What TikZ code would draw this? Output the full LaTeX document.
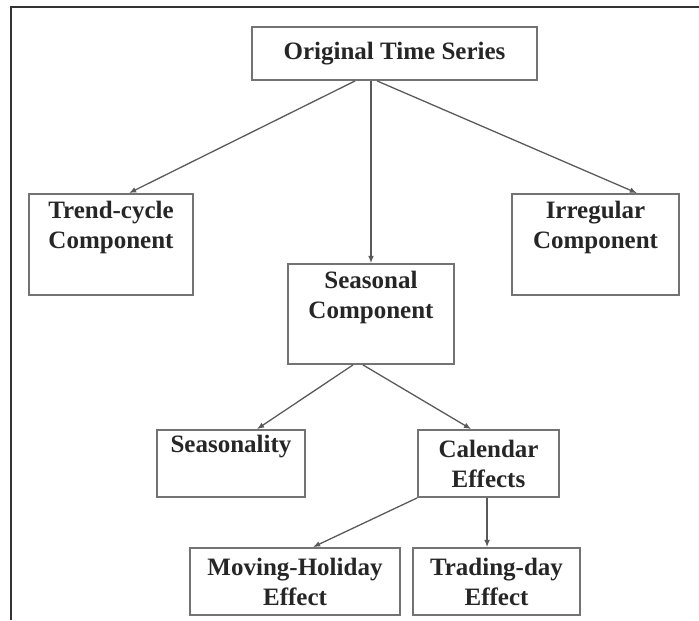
\documentclass[tikz,border=0pt]{standalone}
\usepackage{fontspec}
\setmainfont{Liberation Serif}
\usetikzlibrary{arrows.meta}
\begin{document}
\begin{tikzpicture}[x=0.7pt,y=-0.7pt,line width=.9pt,font=\fontsize{17.5}{21}\selectfont\bfseries,
  box/.style={draw=black!55,line width=1.3pt,align=center,inner sep=0pt,text=black!85},
  link/.style={draw=black!65,line width=.9pt,-{Latex[length=5pt,width=4pt]}}]
\useasboundingbox (0,0) rectangle (699,620);
\draw[line width=1.4pt,black!80] (699,7)--(11,7)--(11,620);
\node[box,minimum width=199.5pt,minimum height=37.1pt] (orig) at (394.5,53.5) {Original Time Series};
\node[box,minimum width=114.8pt,minimum height=70.7pt] (trend) at (111,244.5) {Trend-cycle\\Component\\\strut};
\node[box,minimum width=116.2pt,minimum height=70pt] (seas) at (371,314) {Seasonal\\Component\\\strut};
\node[box,minimum width=116.9pt,minimum height=70.7pt] (irreg) at (595.5,244.5) {Irregular\\Component\\\strut};
\node[box,minimum width=103.6pt,minimum height=46.9pt] (seasonality) at (231,463.5) {Seasonality\\\strut};
\node[box,minimum width=98.7pt,minimum height=46.9pt] (cal) at (488.5,463.5) {Calendar\\Effects};
\node[box,minimum width=147pt,minimum height=46.9pt] (moving) at (295,581.5) {Moving-Holiday\\Effect};
\node[box,minimum width=116.9pt,minimum height=46.9pt] (trading) at (496.5,581.5) {Trading-day\\Effect};
\draw[link] ([xshift=-27.6pt]orig.south)--([xshift=12.6pt]trend.north);
\draw[link] (seas.north |- orig.south)--(seas.north);
\draw[link] ([xshift=-12.2pt]orig.south)--([xshift=29pt]irreg.north);
\draw[link] ([xshift=-12.6pt]seas.south)--([xshift=18.2pt]seasonality.north);
\draw[link] ([xshift=-5.6pt]seas.south)--([xshift=-12.2pt]cal.north);
\draw[link] (cal.south west)--([xshift=12.6pt]moving.north);
\draw[link] ([xshift=-1pt]cal.south)--([xshift=-1pt]cal.south |- trading.north);
\end{tikzpicture}
\end{document}
